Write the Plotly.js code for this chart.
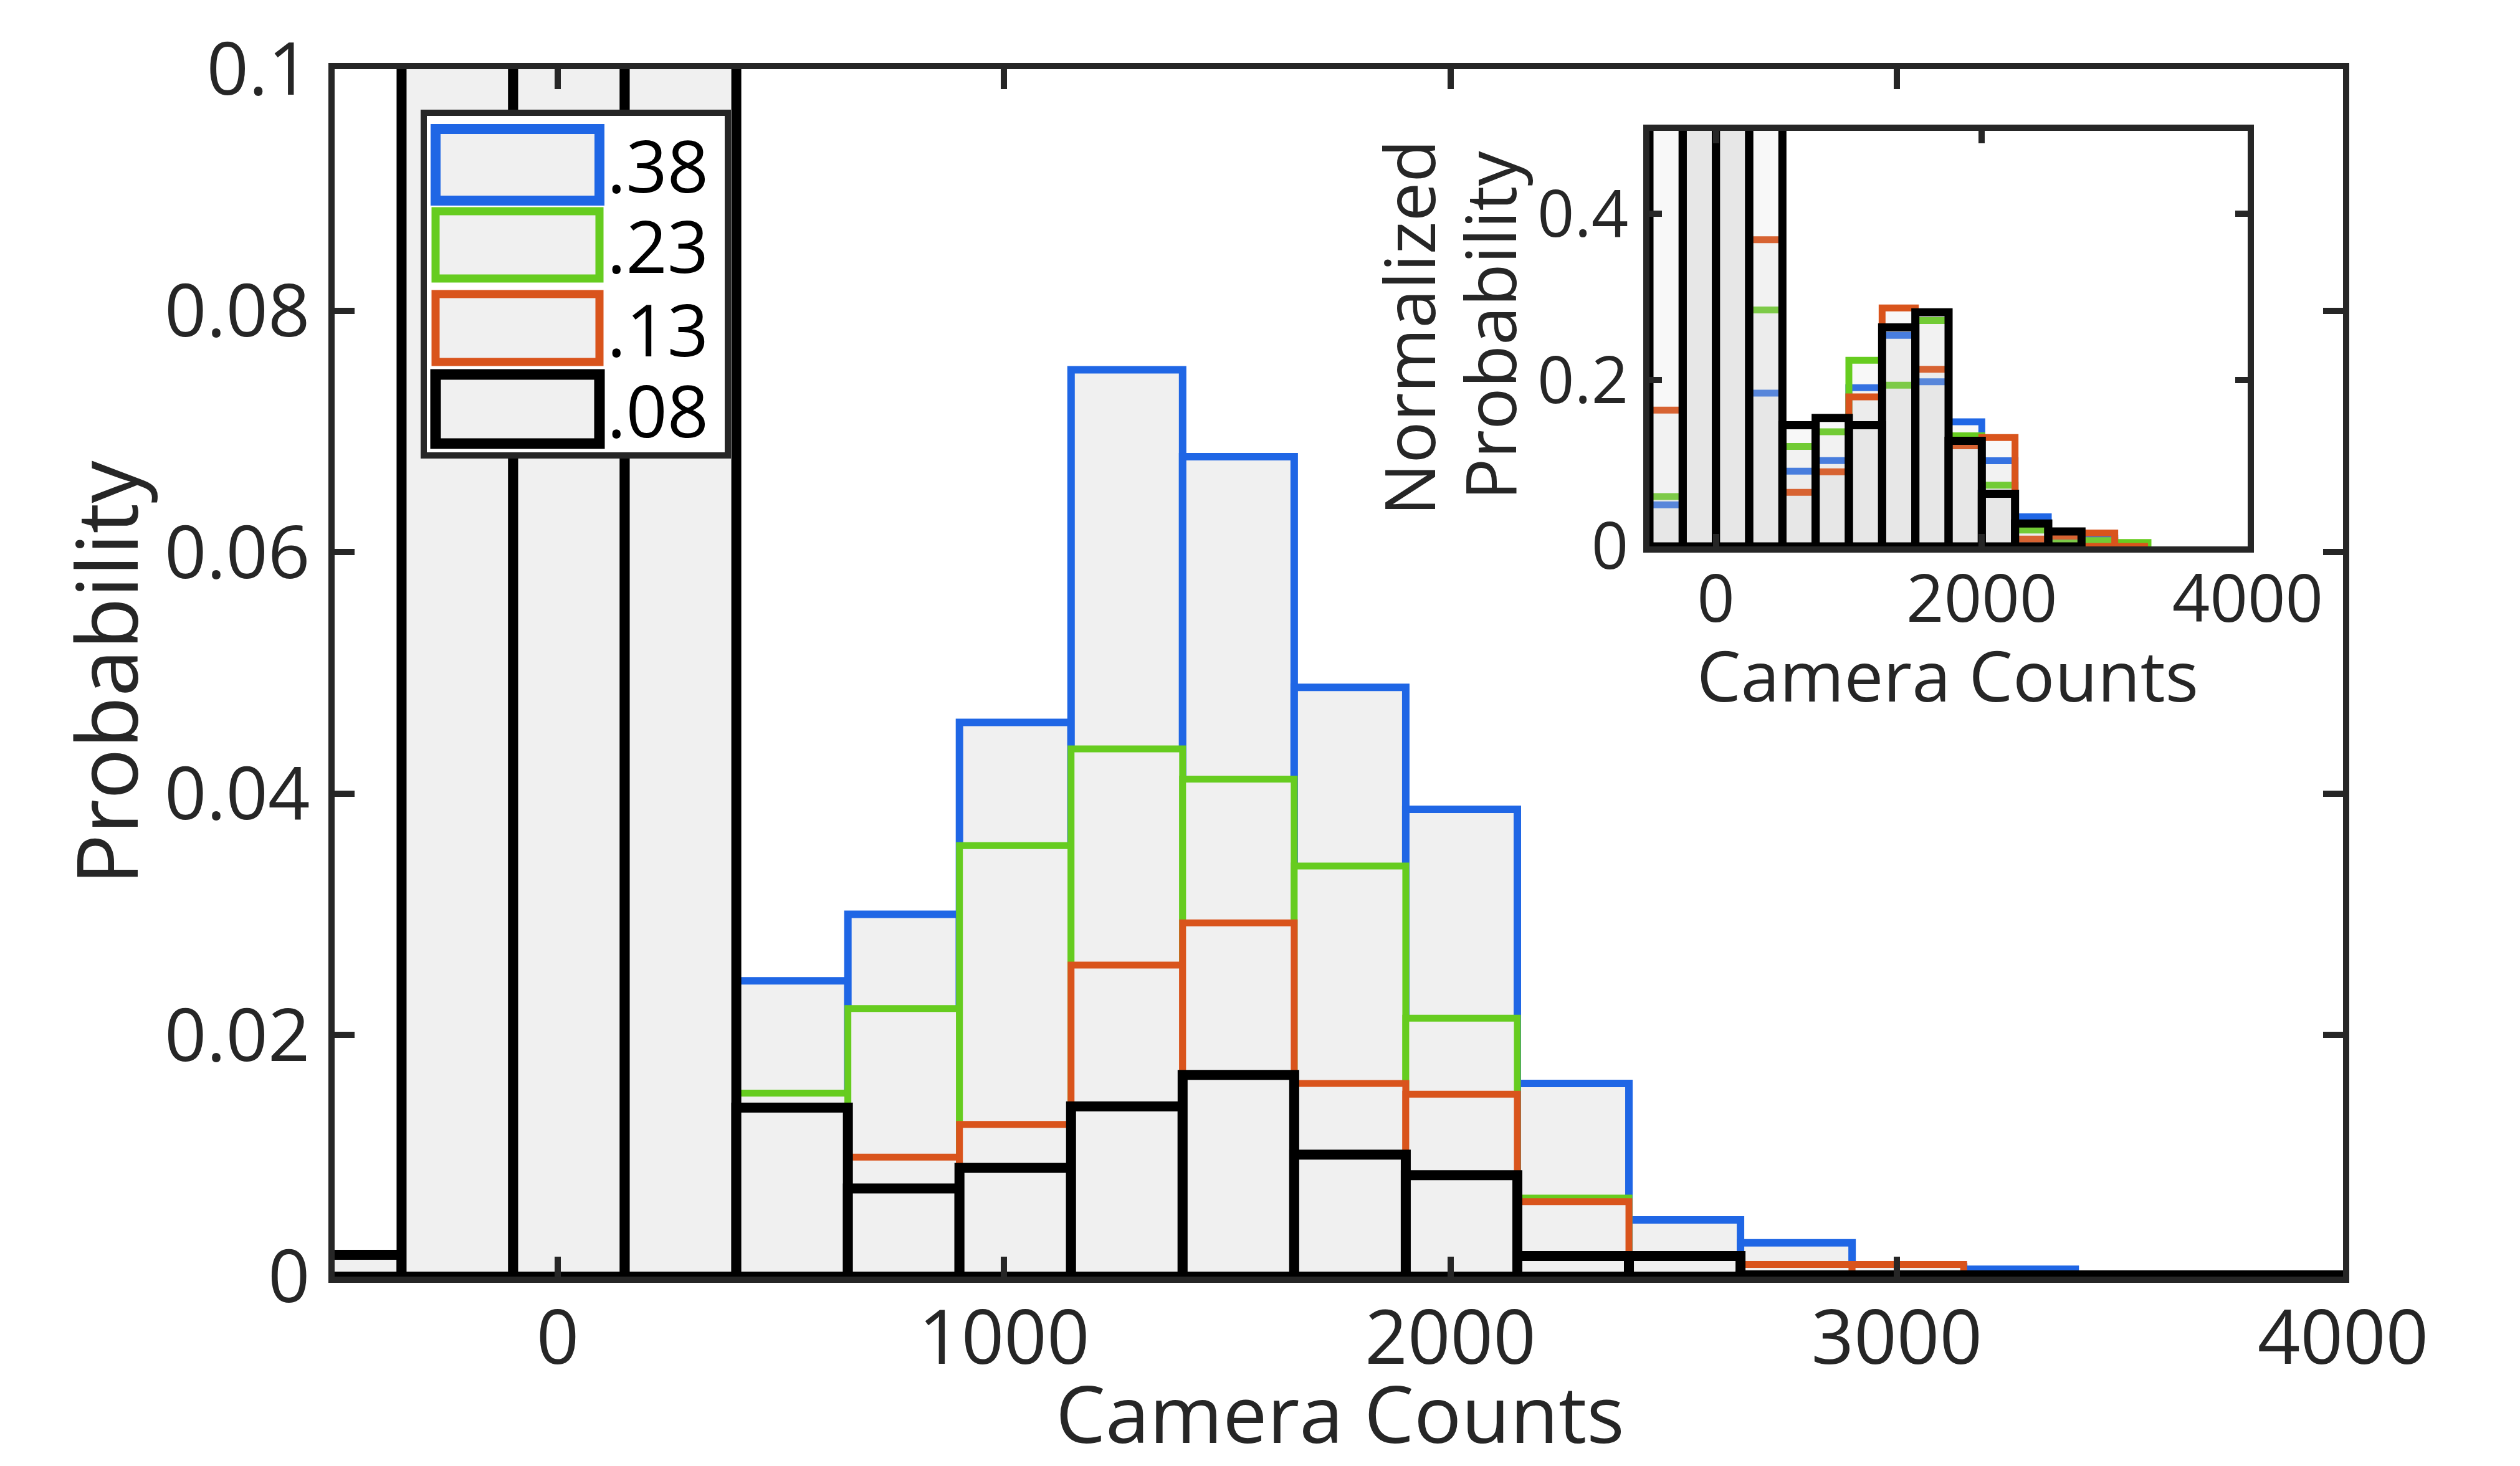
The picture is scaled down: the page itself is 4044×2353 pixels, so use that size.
<!DOCTYPE html>
<html>
<head>
<meta charset="utf-8">
<script src="https://cdn.plot.ly/plotly-3.0.1.min.js"></script>
<style>
  html, body { margin: 0; padding: 0; background: #ffffff; }
  #chart { width: 4044px; height: 2353px; }
</style>
</head>
<body>
<div id="chart"></div>
<script>
// ---------------- DATA ----------------
// Main histogram: bin centres (bin width 250, edges at -600, -350, -100, ...)
var mainCenters = [-475, -225, 25, 275, 525, 775, 1025, 1275, 1525, 1775, 2025, 2275, 2525, 2775, 3025, 3275, 3525, 3775, 4025];
var mainBlue   = [0, 0.21, 0.23, 0.17, 0.0245, 0.0300, 0.0459, 0.0751, 0.0679, 0.0488, 0.0387, 0.0160, 0.0047, 0.0028, 0.0008, 0.0006, 0, 0, 0];
var mainGreen  = [0, 0.20, 0.22, 0.16, 0.0152, 0.0222, 0.0357, 0.0437, 0.0412, 0.0340, 0.0214, 0.0065, 0.0001, 0, 0, 0, 0, 0, 0];
var mainOrange = [0.0001, 0.19, 0.21, 0.15, 0.0110, 0.0099, 0.0126, 0.0258, 0.0293, 0.0160, 0.0151, 0.0062, 0.0012, 0.0010, 0.0010, 0, 0, 0, 0];
var mainBlack  = [0.0018, 0.18, 0.20, 0.14, 0.0140, 0.0073, 0.0090, 0.0141, 0.0167, 0.0101, 0.0084, 0.0017, 0.0017, 0.0001, 0.0001, 0.0001, 0.0001, 0.0001, 0.0001];

// Inset (normalized) histogram: bin centres (bin width 250, edges at -500, -250, 0, ...)
var insetCenters = [-375, -125, 125, 375, 625, 875, 1125, 1375, 1625, 1875, 2125, 2375, 2625, 2875, 3125];
var insetBlue   = [0.050, 0.70, 0.80, 0.1845, 0.0905, 0.1032, 0.191, 0.254, 0.198, 0.150, 0.103, 0.0356, 0.0088, 0.010, 0];
var insetGreen  = [0.060, 0.70, 0.80, 0.2845, 0.1204, 0.138, 0.224, 0.194, 0.2718, 0.133, 0.0736, 0.0197, 0.004, 0.007, 0.0046];
var insetOrange = [0.164, 0.70, 0.80, 0.369, 0.0651, 0.0898, 0.180, 0.287, 0.213, 0.121, 0.131, 0.0088, 0.0123, 0.0162, 0];
var insetBlack  = [0.60, 0.75, 0.85, 0.55, 0.1458, 0.1546, 0.1458, 0.2634, 0.2817, 0.127, 0.0634, 0.0275, 0.018, null, null];

var seriesNames = ['.38', '.23', '.13', '.08'];
var xTickVals = [0, 1000, 2000, 3000, 4000];
var xTickText = ['0', '1000', '2000', '3000', '4000'];
var yTickVals = [0, 0.02, 0.04, 0.06, 0.08, 0.1];
var yTickText = ['0', '0.02', '0.04', '0.06', '0.08', '0.1'];
var insetXTickVals = [0, 2000, 4000];
var insetXTickText = ['0', '2000', '4000'];
var insetYTickVals = [0, 0.2, 0.4];
var insetYTickText = ['0', '0.2', '0.4'];
var mainXTitle = 'Camera Counts';
var mainYTitle = 'Probability';
var insetXTitle = 'Camera Counts';
var insetYTitleLines = ['Normalized', 'Probability'];

// ---------------- STYLE ----------------
var colors = ['#1f66e5', '#66cc1f', '#d9541c', '#000000'];
var lineW = [12, 11, 11, 16];
var insetLineW = [11, 11, 11, 13];
var legendLineW = [16, 13, 13, 17];
var FONT = 'Open Sans, Noto Sans, sans-serif';
var AX = '#262626';

var W = 4044, H = 2353;
var ML = 537, MR = 284, MT = 111, MB = 304;
var PW = W - ML - MR, PH = H - MT - MB;
function px(X) { return (X - ML) / PW; }
function py(Y) { return (H - MB - Y) / PH; }

var mainSeries = [mainBlue, mainGreen, mainOrange, mainBlack];
var insetSeries = [insetBlue, insetGreen, insetOrange, insetBlack];

var traces = [];
for (var i = 0; i < 4; i++) {
  traces.push({
    type: 'bar', x: mainCenters, y: mainSeries[i], width: 250,
    name: seriesNames[i], xaxis: 'x', yaxis: 'y',
    marker: { color: '#f0f0f0', line: { color: colors[i], width: lineW[i] } },
    showlegend: false, hoverinfo: 'skip'
  });
}
for (var j = 0; j < 4; j++) {
  traces.push({
    type: 'bar', x: insetCenters, y: insetSeries[j], width: 250,
    name: seriesNames[j], xaxis: 'x2', yaxis: 'y2',
    marker: { color: 'rgba(200,200,200,0.13)', line: { color: colors[j], width: insetLineW[j] } },
    showlegend: false, hoverinfo: 'skip'
  });
}

// Legend drawn as shapes + text (large rectangular swatches as in the reference)
var shapes = [];
var annotations = [];
shapes.push({ type: 'rect', xref: 'paper', yref: 'paper', layer: 'above',
  x0: px(680), x1: px(1168), y0: py(731), y1: py(181),
  fillcolor: '#ffffff', line: { color: AX, width: 10 } });
var rowTop = [207, 339, 472, 601], rowBot = [322, 447, 581, 712];
for (var k = 0; k < 4; k++) {
  shapes.push({ type: 'rect', xref: 'paper', yref: 'paper', layer: 'above',
    x0: px(699), x1: px(962), y0: py(rowBot[k]), y1: py(rowTop[k]),
    fillcolor: '#f0f0f0', line: { color: colors[k], width: legendLineW[k] } });
  annotations.push({ xref: 'paper', yref: 'paper', x: px(972), y: py((rowTop[k] + rowBot[k]) / 2),
    xanchor: 'left', yanchor: 'middle', showarrow: false, text: seriesNames[k],
    font: { family: FONT, size: 116, color: '#000000' } });
}

// Axis titles placed as text annotations
annotations.push({ xref: 'paper', yref: 'paper', x: px(2150), y: py(2266),
  xanchor: 'center', yanchor: 'middle', showarrow: false, text: mainXTitle,
  font: { family: FONT, size: 127, color: AX } });
annotations.push({ xref: 'paper', yref: 'paper', x: px(3125), y: py(1082),
  xanchor: 'center', yanchor: 'middle', showarrow: false, text: insetXTitle,
  font: { family: FONT, size: 112, color: AX } });
annotations.push({ xref: 'paper', yref: 'paper', x: px(2259), y: py(526),
  xanchor: 'center', yanchor: 'middle', showarrow: false, textangle: -90, text: insetYTitleLines[0],
  font: { family: FONT, size: 112, color: AX } });
annotations.push({ xref: 'paper', yref: 'paper', x: px(2389), y: py(522),
  xanchor: 'center', yanchor: 'middle', showarrow: false, textangle: -90, text: insetYTitleLines[1],
  font: { family: FONT, size: 112, color: AX } });

var layout = {
  width: W, height: H,
  margin: { l: ML, r: MR, t: MT, b: MB, pad: 0 },
  paper_bgcolor: '#ffffff', plot_bgcolor: '#ffffff',
  barmode: 'overlay',
  showlegend: false,
  font: { family: FONT, color: AX },
  xaxis: {
    domain: [0, 1], range: [-500, 4000], anchor: 'y',
    tickvals: xTickVals, ticktext: xTickText,
    ticks: 'inside', ticklen: 32, tickwidth: 10, tickcolor: AX,
    showline: true, linecolor: AX, linewidth: 10, mirror: 'ticks',
    showgrid: false, zeroline: false,
    tickfont: { family: FONT, size: 120, color: AX },
    ticklabelstandoff: -14,
    automargin: false
  },
  yaxis: {
    domain: [0, 1], range: [0, 0.1], anchor: 'x',
    tickvals: yTickVals, ticktext: yTickText,
    ticks: 'inside', ticklen: 32, tickwidth: 10, tickcolor: AX,
    showline: true, linecolor: AX, linewidth: 10, mirror: 'ticks',
    showgrid: false, zeroline: false,
    tickfont: { family: FONT, size: 118, color: AX },
    ticklabelstandoff: 6,
    title: { text: mainYTitle, font: { family: FONT, size: 136, color: AX }, standoff: 0 },
    automargin: false
  },
  xaxis2: {
    domain: [px(2647), px(3607)], range: [-500, 4000], anchor: 'y2',
    tickvals: insetXTickVals, ticktext: insetXTickText,
    ticks: 'inside', ticklen: 20, tickwidth: 10, tickcolor: AX,
    showline: true, linecolor: AX, linewidth: 10, mirror: 'ticks',
    showgrid: false, zeroline: false,
    tickfont: { family: FONT, size: 106, color: AX },
    ticklabelstandoff: -16,
    automargin: false
  },
  yaxis2: {
    domain: [py(877), py(210)], range: [0, 0.5], anchor: 'x2',
    tickvals: insetYTickVals, ticktext: insetYTickText,
    ticks: 'inside', ticklen: 20, tickwidth: 10, tickcolor: AX,
    showline: true, linecolor: AX, linewidth: 10, mirror: 'ticks',
    showgrid: false, zeroline: false,
    tickfont: { family: FONT, size: 104, color: AX },
    ticklabelstandoff: 3,
    automargin: false
  },
  shapes: shapes,
  annotations: annotations
};

Plotly.newPlot('chart', traces, layout, { staticPlot: true, displayModeBar: false });
</script>
</body>
</html>
